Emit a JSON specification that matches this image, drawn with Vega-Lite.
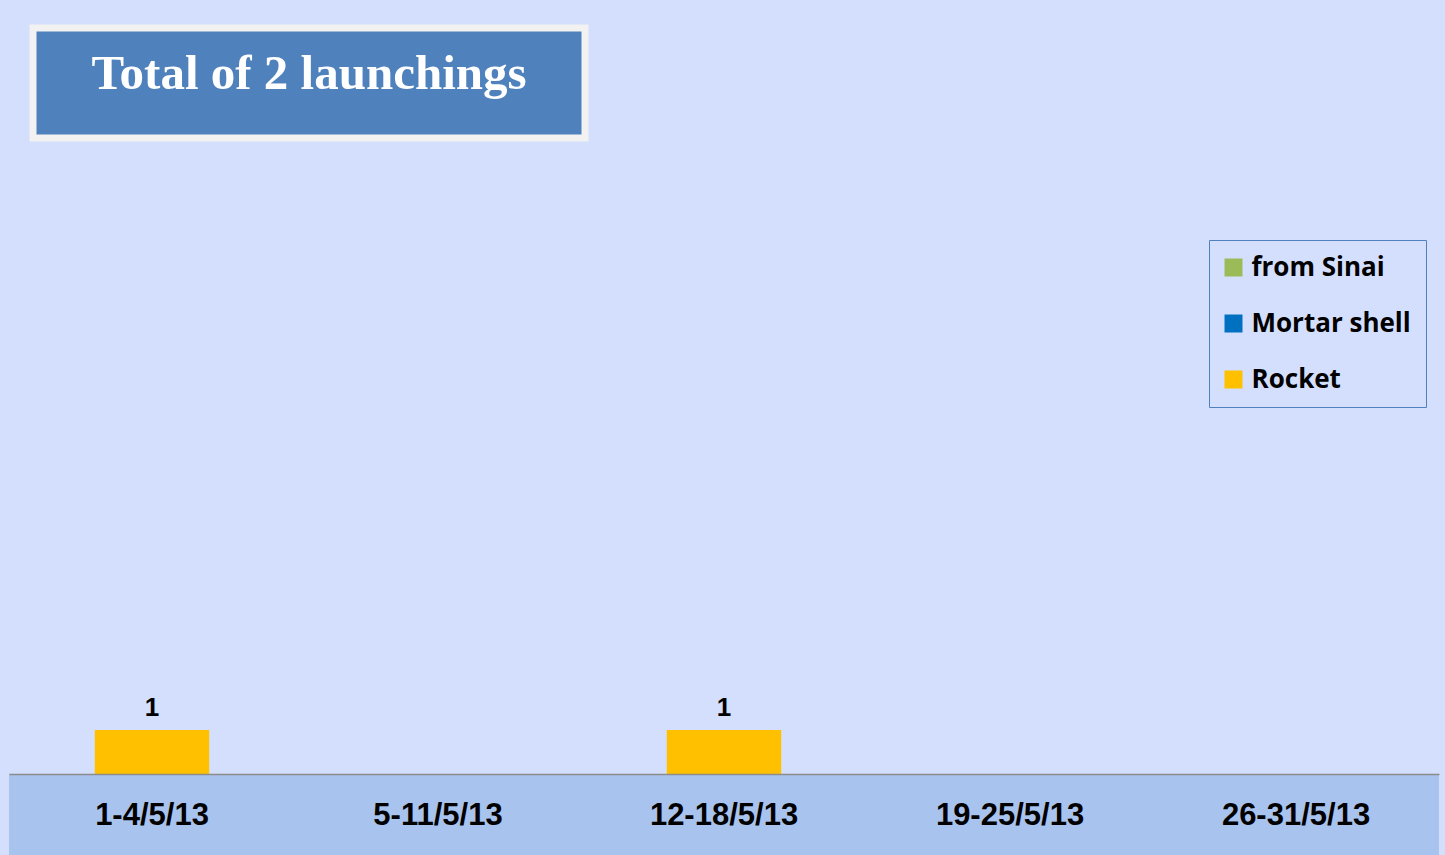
{
  "$schema": "https://vega.github.io/schema/vega-lite/v6.json",
  "background": "#d4dffd",
  "padding": {"left": 9, "top": 24, "right": 6, "bottom": 0},
  "config": {"view": {"stroke": null}},
  "datasets": {
    "launches": [
      {"week": "1-4/5/13", "type": "from Sinai", "count": 0},
      {"week": "1-4/5/13", "type": "Mortar shell", "count": 0},
      {"week": "1-4/5/13", "type": "Rocket", "count": 1},
      {"week": "5-11/5/13", "type": "from Sinai", "count": 0},
      {"week": "5-11/5/13", "type": "Mortar shell", "count": 0},
      {"week": "5-11/5/13", "type": "Rocket", "count": 0},
      {"week": "12-18/5/13", "type": "from Sinai", "count": 0},
      {"week": "12-18/5/13", "type": "Mortar shell", "count": 0},
      {"week": "12-18/5/13", "type": "Rocket", "count": 1},
      {"week": "19-25/5/13", "type": "from Sinai", "count": 0},
      {"week": "19-25/5/13", "type": "Mortar shell", "count": 0},
      {"week": "19-25/5/13", "type": "Rocket", "count": 0},
      {"week": "26-31/5/13", "type": "from Sinai", "count": 0},
      {"week": "26-31/5/13", "type": "Mortar shell", "count": 0},
      {"week": "26-31/5/13", "type": "Rocket", "count": 0}
    ]
  },
  "spacing": 0,
  "vconcat": [
    {
      "spacing": 0,
      "hconcat": [
        {
          "width": 19.5,
          "height": 110,
          "view": {"fill": null, "stroke": null},
          "data": {"name": "launches"},
          "transform": [{"filter": "datum.week == '1-4/5/13' && datum.type == 'Rocket'"}],
          "mark": {"type": "text", "text": " ", "opacity": 0}
        },
        {
          "width": 552,
          "height": 110,
          "view": {"fill": "#4f81bd", "stroke": "#f2f2f2", "strokeWidth": 7},
          "data": {"name": "launches"},
          "transform": [{"filter": "datum.week == '1-4/5/13' && datum.type == 'Rocket'"}],
          "mark": {
            "type": "text",
            "text": "Total of 2 launchings",
            "font": "Liberation Serif",
            "fontWeight": "bold",
            "fontSize": 49,
            "color": "#ffffff",
            "align": "center",
            "baseline": "alphabetic",
            "dy": 5.5
          }
        }
      ]
    },
    {
      "width": 1430,
      "height": 632,
      "view": {"fill": "#d4dffd", "stroke": null},
      "data": {"name": "launches"},
      "layer": [
        {
          "mark": {"type": "bar", "width": {"band": 0.4}},
          "encoding": {
            "x": {
              "field": "week",
              "type": "nominal",
              "sort": null,
              "scale": {
                "domain": ["1-4/5/13", "5-11/5/13", "12-18/5/13", "19-25/5/13", "26-31/5/13"],
                "paddingInner": 0,
                "paddingOuter": 0
              },
              "axis": null
            },
            "y": {
              "aggregate": "sum",
              "field": "count",
              "type": "quantitative",
              "stack": "zero",
              "scale": {"domain": [0, 14.364], "nice": false, "zero": true},
              "axis": null
            },
            "color": {
              "field": "type",
              "type": "nominal",
              "scale": {
                "domain": ["from Sinai", "Mortar shell", "Rocket"],
                "range": ["#9bbb59", "#0070c0", "#ffc000"]
              },
              "legend": {
                "title": null,
                "orient": "none",
                "legendX": 1200,
                "legendY": 212,
                "padding": 14.5,
                "strokeColor": "#4f81bd",
                "symbolType": "square",
                "symbolSize": 324,
                "symbolStrokeWidth": 0,
                "symbolOpacity": 1,
                "symbolOffset": -3,
                "labelFont": "Open Sans",
                "labelFontWeight": "bold",
                "labelFontSize": 26,
                "labelColor": "#000000",
                "labelOffset": 5,
                "rowPadding": 30,
                "labelLimit": 400
              }
            }
          }
        },
        {
          "transform": [{"filter": "datum.count > 0"}],
          "mark": {
            "type": "text",
            "font": "Liberation Sans",
            "fontWeight": "bold",
            "fontSize": 26,
            "color": "#000000",
            "baseline": "alphabetic",
            "dy": -14
          },
          "encoding": {
            "x": {"field": "week", "type": "nominal", "sort": null, "axis": null},
            "y": {"field": "count", "type": "quantitative", "axis": null},
            "text": {"field": "count", "type": "quantitative"}
          }
        }
      ]
    },
    {
      "width": 1430,
      "height": 82,
      "view": {"fill": "#a8c3ee", "stroke": null},
      "data": {"name": "launches"},
      "transform": [{"filter": "datum.type == 'Rocket'"}],
      "mark": {
        "type": "text",
        "font": "Liberation Sans",
        "fontWeight": "bold",
        "fontSize": 31,
        "color": "#000000",
        "align": "center",
        "baseline": "alphabetic",
        "dy": 10
      },
      "encoding": {
        "x": {
          "field": "week",
          "type": "nominal",
          "sort": null,
          "scale": {
            "domain": ["1-4/5/13", "5-11/5/13", "12-18/5/13", "19-25/5/13", "26-31/5/13"],
            "paddingInner": 0,
            "paddingOuter": 0
          },
          "axis": {
            "orient": "top",
            "title": null,
            "labels": false,
            "ticks": false,
            "grid": false,
            "domain": true,
            "domainColor": "#8c8c8c",
            "domainWidth": 1.5
          }
        },
        "text": {"field": "week", "type": "nominal"}
      }
    }
  ]
}
